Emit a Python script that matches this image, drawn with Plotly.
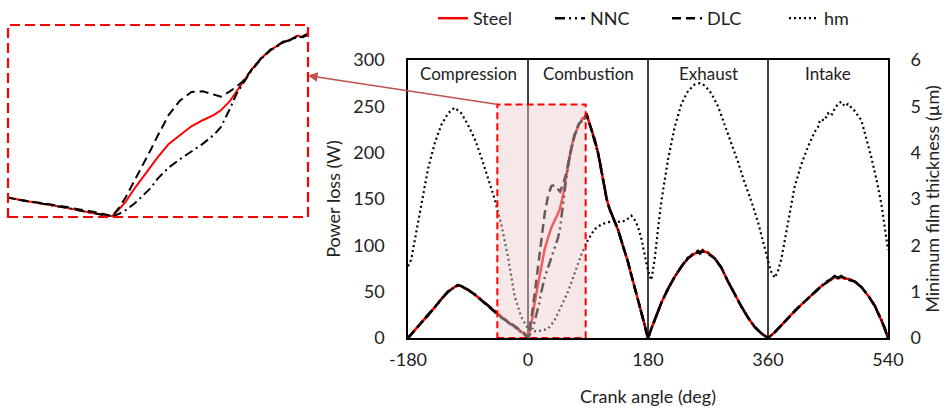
import plotly.graph_objects as go

# ---------------- data ----------------
angle_pl = [-180, -170, -160, -150, -140, -130, -120, -110, -105, -100, -90, -80, -70, -60, -50, -45, -40, -30, -20, -10, -5, 0,
            3, 6, 10, 13, 17, 20, 25, 30, 35, 40, 45, 48, 52, 55, 58, 62, 66, 70, 73, 76, 79, 82, 84, 86, 88,
            92, 96, 100, 105, 110, 115, 118, 122, 126, 130, 135, 140, 145, 150, 155, 160, 165, 170, 175, 178, 180,
            185, 190, 195, 200, 210, 220, 230, 240, 250, 255, 258, 262, 265, 270, 280, 290, 300, 310, 320, 330, 340, 350, 355, 360,
            370, 380, 390, 400, 410, 420, 430, 440, 450, 455, 460, 465, 470, 475, 480, 490, 500, 510, 520, 530, 535, 540]

steel_w = [0, 8, 16, 24, 33, 42, 50, 55, 57, 56, 52, 47, 41, 35, 29, 25, 22, 17, 12, 6, 3.5, 1,
           10, 20, 38, 50, 66, 78, 96, 108, 119, 127, 134, 140, 152, 165, 178, 195, 209, 219, 225, 230, 233, 238, 236, 240, 241,
           232, 222, 214, 200, 182, 163, 150, 140, 133, 126, 117, 105, 94, 82, 68, 55, 42, 28, 14, 5, 0,
           10, 20, 29, 38, 53, 66, 77, 86, 91, 93, 92, 95, 93, 92, 86, 76, 61, 47, 34, 22, 12, 5, 2, 0,
           6, 14, 21, 29, 36, 43, 50, 56, 61, 63, 66, 64, 66, 64, 64, 61, 55, 46, 35, 20, 11, 0]

nnc_w = [0, 8, 16, 24, 33, 42, 50, 55, 57, 56, 52, 47, 41, 35, 29, 25, 22, 17, 12, 6, 3, 0.5,
         4, 9, 18, 26, 38, 50, 65, 76, 86, 96, 108, 118, 142, 162, 176, 194, 208, 219, 224, 230, 232, 237, 236, 239, 241,
         232, 222, 214, 200, 182, 163, 150, 140, 133, 126, 117, 105, 94, 82, 68, 55, 42, 28, 14, 5, 0,
         10, 20, 29, 38, 53, 66, 77, 87, 92, 94, 91, 94, 92, 92, 86, 76, 61, 47, 34, 22, 12, 5, 2, 0,
         6, 14, 21, 29, 36, 43, 50, 56, 62, 64, 67, 65, 66, 65, 64, 61, 55, 46, 35, 20, 11, 0]

dlc_w = [0, 8, 16, 24, 33, 42, 50, 55, 57, 56, 52, 47, 41, 35, 29, 25, 22, 18, 13, 8, 5, 1,
         12, 26, 48, 64, 88, 106, 134, 153, 164, 165, 160, 158, 165, 171, 179, 195, 209, 220, 225, 231, 233, 238, 237, 240, 241,
         232, 222, 214, 200, 182, 163, 150, 140, 133, 126, 117, 105, 94, 82, 68, 55, 42, 28, 14, 5, 0,
         10, 20, 29, 38, 53, 66, 77, 86, 92, 92, 93, 94, 92, 91, 86, 76, 61, 47, 34, 22, 12, 5, 2, 0,
         6, 14, 21, 29, 36, 43, 50, 56, 61, 64, 65, 65, 67, 64, 63, 61, 55, 46, 35, 20, 11, 0]

angle_hm = [-180, -175, -170, -160, -150, -140, -130, -120, -110, -100, -90, -80, -70, -60, -50, -40, -30, -20, -10, 0,
            8, 20, 30, 40, 50, 60, 70, 80, 90, 100, 110, 120, 130, 140, 148, 155, 160, 165, 170, 175, 180,
            185, 190, 195, 200, 210, 220, 230, 240, 250, 258, 265, 275, 285, 295, 305, 315, 325, 335, 345, 352, 358,
            364, 370, 375, 380, 385, 390, 400, 410, 420, 430, 435, 438, 445, 450, 455, 460, 465, 470, 475, 480,
            490, 500, 508, 515, 523, 530, 535, 540]

hm_um = [1.55, 1.7, 2.1, 2.9, 3.65, 4.2, 4.6, 4.85, 4.97, 4.85, 4.6, 4.3, 3.9, 3.45, 3.0, 2.45, 1.75, 0.9, 0.45, 0.2,
         0.14, 0.16, 0.2, 0.38, 0.7, 1.0, 1.4, 1.8, 2.12, 2.35, 2.45, 2.5, 2.52, 2.5, 2.55, 2.64, 2.55, 2.4, 2.15, 1.8, 1.45,
         1.25, 1.7, 2.35, 2.95, 3.85, 4.55, 5.05, 5.33, 5.47, 5.5, 5.45, 5.28, 5.0, 4.6, 4.2, 3.8, 3.35, 2.95, 2.5, 2.1, 1.76,
         1.45, 1.3, 1.45, 1.7, 2.1, 2.55, 3.27, 3.75, 4.13, 4.45, 4.55, 4.71, 4.7, 4.85, 4.8, 4.95, 5.05, 5.1, 5.0, 5.05,
         4.9, 4.7, 4.3, 3.9, 3.4, 2.9, 2.4, 1.9]

x_ticks = [-180, 0, 180, 360, 540]
x_tick_labels = ["-180", "0", "180", "360", "540"]
phase_names = ["Compression", "Combustion", "Exhaust", "Intake"]
phase_centres = [-90, 90, 270, 450]
phase_bounds = [0, 180, 360]
zoom_window = [-46, 86.5]   # crank angle range magnified in the inset
zoom_power = [0, 252]       # power range magnified in the inset

# ---------------- styles ----------------
FONT = "Lato, 'Open Sans', sans-serif"
TXT = "#222222"
RED = "#ff0000"
NNC_DASH = "10px,4px,2px,4px,2px,4px"
DLC_DASH = "9px,5px"
HM_DASH = "2px,3px"

W, H = 948, 414
xd = [408 / W, 888 / W]
yd = [(H - 338) / H, (H - 60) / H]
ixd = [8 / W, 308 / W]
iyd = [(H - 217) / H, (H - 25) / H]

fig = go.Figure()

# main chart
fig.add_trace(go.Scatter(x=angle_pl, y=steel_w, name="Steel", mode="lines",
                         line=dict(color=RED, width=2.5)))
fig.add_trace(go.Scatter(x=angle_pl, y=nnc_w, name="NNC", mode="lines",
                         line=dict(color="black", width=2.5, dash=NNC_DASH)))
fig.add_trace(go.Scatter(x=angle_pl, y=dlc_w, name="DLC", mode="lines",
                         line=dict(color="black", width=2.5, dash=DLC_DASH)))
fig.add_trace(go.Scatter(x=angle_hm, y=hm_um, name="hm", mode="lines", yaxis="y2",
                         line=dict(color="black", width=2.2, dash=HM_DASH)))

# inset (magnified window)
fig.add_trace(go.Scatter(x=angle_pl, y=steel_w, mode="lines", xaxis="x3", yaxis="y3",
                         showlegend=False, line=dict(color=RED, width=2)))
fig.add_trace(go.Scatter(x=angle_pl, y=nnc_w, mode="lines", xaxis="x3", yaxis="y3",
                         showlegend=False, line=dict(color="black", width=2, dash="9px,4px,2px,4px")))
fig.add_trace(go.Scatter(x=angle_pl, y=dlc_w, mode="lines", xaxis="x3", yaxis="y3",
                         showlegend=False, line=dict(color="black", width=2, dash=DLC_DASH)))

shapes = []
for b in phase_bounds:
    shapes.append(dict(type="line", xref="x", yref="y", x0=b, x1=b, y0=0, y1=300,
                       line=dict(color="black", width=1.5), layer="below"))
shapes.append(dict(type="rect", xref="x", yref="y", x0=zoom_window[0], x1=zoom_window[1],
                   y0=zoom_power[0], y1=zoom_power[1], fillcolor="rgba(235,205,205,0.45)",
                   line=dict(width=0), layer="above"))
shapes.append(dict(type="rect", xref="x", yref="y", x0=zoom_window[0], x1=zoom_window[1],
                   y0=zoom_power[0], y1=zoom_power[1], fillcolor="rgba(0,0,0,0)",
                   line=dict(color=RED, width=2, dash="7px,4px"), layer="above"))
shapes.append(dict(type="rect", xref="x3 domain", yref="y3 domain", x0=0, x1=1, y0=0, y1=1,
                   fillcolor="rgba(0,0,0,0)", line=dict(color=RED, width=2.2, dash="10px,5px"),
                   layer="above"))

annotations = []
for name, c in zip(phase_names, phase_centres):
    annotations.append(dict(x=c, y=1, xref="x", yref="y domain", text=name, showarrow=False,
                            yanchor="top", yshift=-1, font=dict(family=FONT, size=17, color=TXT)))
# arrow from magnified window to inset
annotations.append(dict(x=ixd[1], y=0.8175, xref="paper", yref="paper", text="",
                        showarrow=True, arrowhead=2, arrowsize=1.2, arrowwidth=1.6,
                        arrowcolor="#c0504d", ax=190, ay=29, standoff=0))

axis_common = dict(showgrid=False, zeroline=False, showline=True, linecolor="black",
                   linewidth=1.5, tickfont=dict(family=FONT, size=18, color=TXT),
                   automargin=False)

fig.update_layout(
    width=W, height=H,
    margin=dict(l=0, r=0, t=0, b=0, autoexpand=False),
    paper_bgcolor="white", plot_bgcolor="white",
    font=dict(family=FONT, color=TXT),
    showlegend=True,
    legend=dict(orientation="h", x=433 / W, y=1.0, xanchor="left", yanchor="top",
                font=dict(family=FONT, size=18, color=TXT), bgcolor="rgba(0,0,0,0)",
                entrywidth=72, entrywidthmode="pixels", traceorder="normal"),
    xaxis=dict(domain=xd, range=[-180, 540], tickvals=x_ticks, ticktext=x_tick_labels,
               mirror=True, ticks="outside", ticklen=5, tickcolor="rgba(0,0,0,0)",
               title=dict(text="Crank angle (deg)", font=dict(family=FONT, size=18, color=TXT),
                          standoff=21),
               anchor="y", **axis_common),
    yaxis=dict(domain=yd, range=[0, 300], tick0=0, dtick=50, mirror=True,
               ticks="outside", ticklen=18, tickcolor="rgba(0,0,0,0)",
               title=dict(text="Power loss (W)", font=dict(family=FONT, size=18, color=TXT),
                          standoff=8),
               anchor="x", **axis_common),
    yaxis2=dict(overlaying="y", side="right", anchor="x", range=[0, 6], tick0=0, dtick=1,
                showgrid=False, zeroline=False, showline=False, automargin=False,
                ticks="outside", ticklen=18, tickcolor="rgba(0,0,0,0)",
                tickfont=dict(family=FONT, size=18, color=TXT),
                title=dict(text="Minimum film thickness (µm)",
                           font=dict(family=FONT, size=18, color=TXT), standoff=6)),
    xaxis3=dict(domain=ixd, range=zoom_window, visible=False, anchor="y3"),
    yaxis3=dict(domain=iyd, range=zoom_power, visible=False, anchor="x3"),
    shapes=shapes,
    annotations=annotations,
)

fig.write_html("out.html")
